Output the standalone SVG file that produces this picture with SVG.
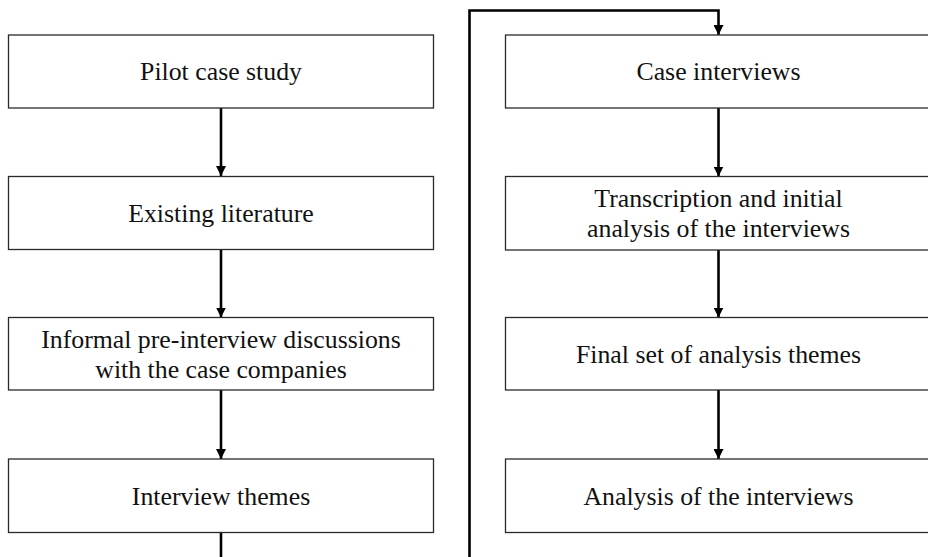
<svg xmlns="http://www.w3.org/2000/svg" width="928" height="557" viewBox="0 0 928 557">
  <defs>
    <marker id="arrow" viewBox="0 0 10 10" refX="10" refY="5" markerWidth="10" markerHeight="10" markerUnits="userSpaceOnUse" orient="auto">
      <path d="M0,0 L10,5 L0,10 Z" fill="#000"/>
    </marker>
    <style>
      .box { fill: #fff; stroke: #2a2a2a; stroke-width: 1.3; }
      .label { font-family: "Liberation Serif", "Times New Roman", serif; font-size: 25.8px; fill: #111; text-anchor: middle; }
      .link { fill: none; stroke: #000; stroke-width: 2.6; }
    </style>
  </defs>
  <rect width="928" height="557" fill="#fff"/>

  <!-- flow connectors -->
  <g id="connectors">
    <path class="link" d="M221,108 V176" marker-end="url(#arrow)"/>
    <path class="link" d="M221,250 V317.5" marker-end="url(#arrow)"/>
    <path class="link" d="M221,390 V459" marker-end="url(#arrow)"/>
    <path class="link" d="M221,532.5 V557"/>
    <path class="link" d="M469.5,557 V10.5 H718.5 V35" marker-end="url(#arrow)"/>
    <path class="link" d="M718.5,108 V176.5" marker-end="url(#arrow)"/>
    <path class="link" d="M718.5,250 V317.5" marker-end="url(#arrow)"/>
    <path class="link" d="M718.5,390 V459" marker-end="url(#arrow)"/>
  </g>

  <!-- left column -->
  <g id="pilot-case-study">
    <rect class="box" x="8.5" y="35" width="425" height="73"/>
    <text class="label" x="221" y="80">Pilot case study</text>
  </g>
  <g id="existing-literature">
    <rect class="box" x="8.5" y="176.5" width="425" height="73"/>
    <text class="label" x="221" y="221.5">Existing literature</text>
  </g>
  <g id="pre-interview-discussions">
    <rect class="box" x="8.5" y="317.5" width="425" height="72.5"/>
    <text class="label" x="221" y="348">Informal pre-interview discussions</text>
    <text class="label" x="221" y="377.5">with the case companies</text>
  </g>
  <g id="interview-themes">
    <rect class="box" x="8.5" y="459" width="425" height="73.5"/>
    <text class="label" x="221" y="504.5">Interview themes</text>
  </g>

  <!-- right column -->
  <g id="case-interviews">
    <rect class="box" x="505.5" y="35" width="440" height="73"/>
    <text class="label" x="718.5" y="80">Case interviews</text>
  </g>
  <g id="transcription">
    <rect class="box" x="505.5" y="176.5" width="440" height="73.5"/>
    <text class="label" x="718.5" y="207">Transcription and initial</text>
    <text class="label" x="718.5" y="236.5">analysis of the interviews</text>
  </g>
  <g id="final-themes">
    <rect class="box" x="505.5" y="317.5" width="440" height="72.5"/>
    <text class="label" x="718.5" y="362.5">Final set of analysis themes</text>
  </g>
  <g id="analysis">
    <rect class="box" x="505.5" y="459" width="440" height="73.5"/>
    <text class="label" x="718.5" y="504.5">Analysis of the interviews</text>
  </g>
</svg>
